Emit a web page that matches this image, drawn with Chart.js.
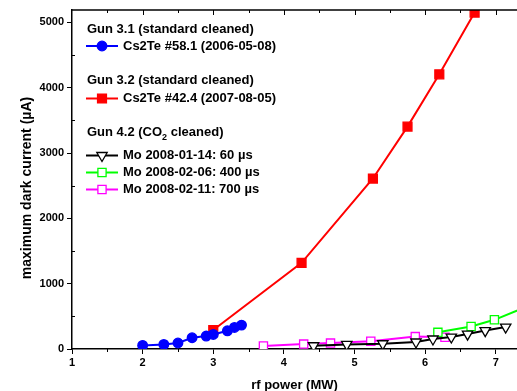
<!DOCTYPE html>
<html>
<head>
<meta charset="utf-8">
<title>dark current vs rf power</title>
<script src="https://cdn.jsdelivr.net/npm/chart.js@4.4.1/dist/chart.umd.min.js"></script>
<style>
  html, body { margin: 0; padding: 0; background: #fff; overflow: hidden; }
  #wrap { width: 517px; height: 391px; position: relative; }
  canvas { display: block; }
</style>
</head>
<body>
<div id="wrap"><canvas id="darkChart"></canvas></div>
<script>
// rf power vs. maximum dark current - guns 3.1 / 3.2 / 4.2
var xTicks = [1, 2, 3, 4, 5, 6, 7];
var yTicks = [0, 1000, 2000, 3000, 4000, 5000];

var groupTitles = ['Gun 3.1 (standard cleaned)', 'Gun 3.2 (standard cleaned)', 'Gun 4.2 (CO|2| cleaned)'];
var seriesNames = ['Cs2Te #58.1 (2006-05-08)', 'Cs2Te #42.4 (2007-08-05)',
                   'Mo 2008-01-14: 60 \u00b5s', 'Mo 2008-02-06: 400 \u00b5s', 'Mo 2008-02-11: 700 \u00b5s'];
var yTitle = 'maximum dark current (\u00b5A)';

// Gun 3.1, Cs2Te #58.1
var cs58X = [2.0, 2.3, 2.5, 2.7, 2.9, 3.0, 3.2, 3.3, 3.4];
var cs58Y = [55, 70, 92, 172, 198, 223, 279, 330, 366];
// Gun 3.2, Cs2Te #42.4
var cs42X = [3.0, 4.25, 5.26, 5.75, 6.2, 6.7];
var cs42Y = [290, 1320, 2610, 3405, 4205, 5150];
// Gun 4.2, Mo 60 us
var mo60X = [4.42, 4.89, 5.40, 5.87, 6.11, 6.37, 6.60, 6.85, 7.14];
var mo60Y = [50, 70, 80, 107, 153, 183, 228, 282, 336];
// Gun 4.2, Mo 400 us
var mo400X = [6.18, 6.65, 6.98, 7.4];
var mo400Y = [255, 345, 447, 630];
// Gun 4.2, Mo 700 us
var mo700X = [3.71, 4.28, 4.66, 5.23, 5.86, 6.28];
var mo700Y = [45, 75, 90, 120, 190, 180];

(function () {
    'use strict';

    var FONT = '"Liberation Sans", Arial, sans-serif';

    function pts(xs, ys) {
        return xs.map(function (x, i) { return { x: x, y: ys[i] }; });
    }

    function drawMarker(ctx, ds, x, y) {
        var opts = {
            pointStyle: ds.pointStyle,
            radius: ds.pointRadius,
            rotation: ds.pointRotation || 0,
            borderWidth: ds.pointBorderWidth
        };
        ctx.save();
        ctx.fillStyle = ds.pointBackgroundColor;
        ctx.strokeStyle = ds.pointBorderColor;
        ctx.lineWidth = ds.pointBorderWidth;
        Chart.helpers.drawPoint(ctx, opts, x, y);
        ctx.restore();
    }

    // legend with group headers, drawn inside the plot
    var legendPlugin = {
        id: 'groupLegend',
        afterDatasetsDraw: function (chart) {
            var ctx = chart.ctx;
            var dsets = chart.data.datasets;
            var rows = [
                { y: 29.5, head: 0 }, { y: 46, ds: 0 },
                { y: 80.5, head: 1 }, { y: 98.5, ds: 1 },
                { y: 132.5, head: 2 }, { y: 155.5, ds: 2 }, { y: 172.5, ds: 3 }, { y: 189.5, ds: 4 }
            ];
            ctx.save();
            ctx.textBaseline = 'middle';
            ctx.fillStyle = '#000';
            rows.forEach(function (r) {
                if (r.head !== undefined) {
                    var parts = groupTitles[r.head].split('|');
                    var x = 87;
                    parts.forEach(function (p, i) {
                        var sub = (i % 2 === 1);
                        ctx.font = 'bold ' + (sub ? 9 : 13) + 'px ' + FONT;
                        ctx.fillText(p, x, r.y + (sub ? 5 : 0));
                        x += ctx.measureText(p).width;
                    });
                } else {
                    var ds = dsets[r.ds];
                    ctx.strokeStyle = ds.borderColor;
                    ctx.lineWidth = 2;
                    ctx.beginPath();
                    ctx.moveTo(86, r.y);
                    ctx.lineTo(118, r.y);
                    ctx.stroke();
                    drawMarker(ctx, ds, 102, r.y);
                    ctx.font = 'bold 13px ' + FONT;
                    ctx.fillStyle = '#000';
                    ctx.fillText(seriesNames[r.ds], 123, r.y);
                }
            });
            ctx.restore();
        }
    };

    // top frame line, minor / top ticks and the y title
    var framePlugin = {
        id: 'frame',
        afterDraw: function (chart) {
            var ctx = chart.ctx;
            var a = chart.chartArea;
            var xs = chart.scales.x, ys = chart.scales.y;
            ctx.save();
            ctx.strokeStyle = '#000';
            ctx.lineWidth = 1.5;
            ctx.beginPath();
            ctx.moveTo(a.left, a.top);
            ctx.lineTo(a.right, a.top);
            ctx.stroke();
            ctx.lineWidth = 1;
            ctx.beginPath();
            for (var v = 1.5; v < xs.max; v += 0.5) {
                var px = Math.round(xs.getPixelForValue(v)) + 0.5;
                var major = (v % 1 === 0);
                ctx.moveTo(px, a.top);
                ctx.lineTo(px, a.top + (major ? 5 : 3));
                if (!major) {
                    ctx.moveTo(px, a.bottom);
                    ctx.lineTo(px, a.bottom + 3);
                }
            }
            for (var w = 500; w < ys.max; w += 1000) {
                var py = Math.round(ys.getPixelForValue(w)) + 0.5;
                ctx.moveTo(a.left, py);
                ctx.lineTo(a.left + 3, py);
            }
            ctx.stroke();

            ctx.translate(27, 188);
            ctx.rotate(-Math.PI / 2);
            ctx.font = 'bold 14px ' + FONT;
            ctx.textAlign = 'center';
            ctx.textBaseline = 'middle';
            ctx.fillStyle = '#000';
            ctx.fillText(yTitle, 0, 0);
            ctx.restore();
        }
    };

    function series(label, xs, ys, color, style, fill, radius, rotation) {
        return {
            label: label,
            data: pts(xs, ys),
            borderColor: color,
            borderWidth: 2,
            pointStyle: style,
            pointRadius: radius,
            pointRotation: rotation || 0,
            pointBackgroundColor: fill,
            pointBorderColor: color,
            pointBorderWidth: 1.3,
            tension: 0
        };
    }

    document.addEventListener('DOMContentLoaded', function () {
        Chart.defaults.font.family = FONT;
        Chart.defaults.color = '#000';

        var axisCommon = {
            type: 'linear',
            border: { color: '#000', width: 1.5 },
            grid: { drawOnChartArea: false, color: '#000', lineWidth: 1, tickLength: 5 }
        };

        new Chart(document.getElementById('darkChart'), {
            type: 'line',
            data: {
                datasets: [
                    series(seriesNames[0], cs58X, cs58Y, '#0000ff', 'circle', '#0000ff', 4.8),
                    series(seriesNames[1], cs42X, cs42Y, '#ff0000', 'rect', '#ff0000', 6.3),
                    series(seriesNames[2], mo60X, mo60Y, '#000000', 'triangle', '#ffffff', 6, 180),
                    series(seriesNames[3], mo400X, mo400Y, '#00ff00', 'rect', '#ffffff', 5.8),
                    series(seriesNames[4], mo700X, mo700Y, '#ff00ff', 'rect', '#ffffff', 5.8)
                ]
            },
            options: {
                responsive: true,
                maintainAspectRatio: false,
                animation: false,
                // the plot runs off the right edge of the picture, so no auto padding for markers
                layout: { autoPadding: false, padding: { left: 0, right: 0, top: 10, bottom: 0 } },
                plugins: { legend: { display: false }, tooltip: { enabled: false } },
                scales: {
                    x: Object.assign({}, axisCommon, {
                        min: 1, max: 7.3,
                        afterBuildTicks: function (s) { s.ticks = xTicks.map(function (v) { return { value: v }; }); },
                        afterFit: function (s) { s.height = 42; s.paddingLeft = 0; s.paddingRight = 0; },
                        ticks: { color: '#000', font: { size: 11, weight: 'bold' }, padding: 2, maxRotation: 0 },
                        title: { display: true, text: 'rf power (MW)', color: '#000',
                                 font: { size: 13, weight: 'bold' }, padding: { top: 0, bottom: -2 } }
                    }),
                    y: Object.assign({}, axisCommon, {
                        min: 0, max: 5190,
                        afterBuildTicks: function (s) { s.ticks = yTicks.map(function (v) { return { value: v }; }); },
                        afterFit: function (s) { s.width = 72; s.paddingTop = 0; s.paddingBottom = 0; },
                        ticks: {
                            color: '#000', font: { size: 11, weight: 'bold' }, padding: 3,
                            callback: function (v) { return String(v); }
                        }
                    })
                }
            },
            plugins: [legendPlugin, framePlugin]
        });
    });
})();
</script>
</body>
</html>
